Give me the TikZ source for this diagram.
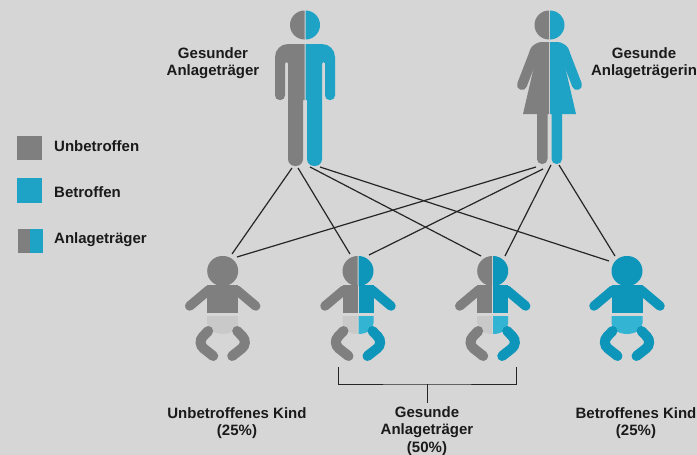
\documentclass[tikz,border=0pt]{standalone}
\usepackage{fontspec}
\usetikzlibrary{positioning}
\setmainfont{Liberation Sans}
\definecolor{bggray}{HTML}{D6D6D6}
\definecolor{figgray}{HTML}{7F7F7F}
\definecolor{figblue}{HTML}{1EA3C6}
\definecolor{babyblue}{HTML}{0E95BA}
\definecolor{nappygray}{HTML}{C9C9C9}
\definecolor{nappyblue}{HTML}{33B4D2}
\definecolor{labelcol}{HTML}{1A1A1A}

\begin{document}
\begin{tikzpicture}
            [
                x=1pt, y=-1pt,
                label/.style={font=\bfseries\fontsize{15}{17.5}\selectfont, text=labelcol, align=center, inner sep=0pt},
                swatch/.style={minimum height=24.5pt, minimum width=25pt, inner sep=0pt, outer sep=0pt},
                halfswatch/.style={minimum height=24.5pt, minimum width=12.5pt, inner sep=0pt, outer sep=0pt},
                link/.style={black!85, line width=1.2pt},
                bracket/.style={black!85, line width=0.9pt},
                pics/manhalf/.style={code={
                    \fill[#1] (0.5,10.5) arc[start angle=-90, end angle=90, radius=14.5];
                    \fill[#1] (0.5,44) [rounded corners=13pt] -- (30,44) [rounded corners=4.5pt] -- (30,100) -- (20,100) [rounded corners=1.5pt] -- (20,62) -- (17,62) [rounded corners=7pt] -- (17,166) -- (2,166) [sharp corners] -- (2,100) -- (0.5,100) -- cycle;
                }},
                pics/womanhalf/.style={code={
                    \fill[#1] (0.5,10.5) arc[start angle=-90, end angle=90, radius=14.5];
                    \draw[#1, line width=10pt, line cap=round] (14,50) -- (27.5,85);
                    \fill[#1] (0.5,42) [rounded corners=8pt] -- (16,42) [sharp corners] -- (20,52) -- (14,60) -- (26.5,114) -- (0.5,114) -- cycle;
                    \fill[#1] (2,114) [rounded corners=5pt] -- (2,164) -- (12.5,164) [sharp corners] -- (12.5,114) -- cycle;
                }},
                pics/babyhalf/.style n args={3}{code={
                    \fill[#1] (#3,-15) -- (0.5,-15) arc[start angle=-90, end angle=90, radius=15] -- (#3,15) -- cycle;
                    \draw[#1, line width=9.5pt, line cap=round] (14,19) -- (33,35);
                    \fill[#1] (#3,14) -- (15.5,14) -- (15.5,42) -- (#3,42) -- cycle;
                    \fill[#2] (#3,45) -- (15.5,45) -- (15.5,52) .. controls (15.5,59) and (8,63) .. (#3,63) -- cycle;
                    \draw[#1, line width=10pt, line cap=round, rounded corners=9pt] (14.5,60) -- (26,72) -- (9.5,85);
                }}
            ]
            % background and frame
            \fill[bggray] (0,0) rectangle (697,455);
            \useasboundingbox (0,0) rectangle (697,455);

            % legend
            \node[swatch, fill=figgray] (boxUnbetroffen) at (29.5,148) {};
            \node[swatch, fill=figblue] (boxBetroffen) at (29.5,190.5) {};
            \node[halfswatch, fill=figgray] (boxTraegerA) at (24,241) {};
            \node[halfswatch, fill=figblue, right=0pt of boxTraegerA] (boxTraegerB) {};
            \node[label, anchor=west] (textUnbetroffen) at (54,146.5) {Unbetroffen};
            \node[label, anchor=west] (textBetroffen) at (54,192.5) {Betroffen};
            \node[label, anchor=west] (textTraeger) at (54,239.5) {Anlageträger};

            % parents
            \pic[xscale=-1] at (305,0) {manhalf=figgray};
            \pic at (305,0) {manhalf=figblue};
            \pic[xscale=-1] at (549.5,0) {womanhalf=figgray};
            \pic at (549.5,0) {womanhalf=figblue};
            \node[label] (labelVater) at (213,63) {
                Gesunder \\
                Anlageträger
            };
            \node[label] (labelMutter) at (644,63) {
                Gesunde \\
                Anlageträgerin
            };

            % babies
            \foreach \kx/\lc/\ln/\rc/\rn/\seam in {
                222.7/figgray/nappygray/figgray/nappygray/-0.5,
                358/figgray/nappygray/babyblue/nappyblue/0.5,
                492.7/figgray/nappygray/babyblue/nappyblue/0.5,
                627/babyblue/nappyblue/babyblue/nappyblue/-0.5%
            } {
                \pic[xscale=-1] at (\kx,271) {babyhalf={\lc}{\ln}{\seam}};
                \pic at (\kx,271) {babyhalf={\rc}{\rn}{\seam}};
            }

            % connector ends
            \coordinate (vaterA) at (292,168);
            \coordinate (vaterB) at (298,168);
            \coordinate (vaterC) at (310,167);
            \coordinate (vaterD) at (320,167);
            \coordinate (mutterA) at (536,167);
            \coordinate (mutterB) at (543,169);
            \coordinate (mutterC) at (551,165);
            \coordinate (mutterD) at (559,165);
            \coordinate (kindAv) at (232,254);
            \coordinate (kindBv) at (350,254);
            \coordinate (kindCv) at (481,256);
            \coordinate (kindDv) at (609,261);
            \coordinate (kindAm) at (237,257);
            \coordinate (kindBm) at (369,255);
            \coordinate (kindCm) at (505,256);
            \coordinate (kindDm) at (615,256);
            \foreach \from/\to in {
                vaterA/kindAv, vaterB/kindBv, vaterC/kindCv, vaterD/kindDv,
                mutterA/kindAm, mutterB/kindBm, mutterC/kindCm, mutterD/kindDm%
            } {
                \draw[link] (\from) -- (\to);
            }

            % bracket
            \coordinate (klammerL) at (338,367);
            \coordinate (klammerR) at (516,367);
            \coordinate (klammerM) at (427,384);
            \coordinate (klammerS) at (427,403);
            \draw[bracket] (klammerL) |- (klammerM) -| (klammerR);
            \draw[bracket] (klammerM) -- (klammerS);

            % bottom labels
            \node[label] (labelUnbetroffen) at (237,423) {
                Unbetroffenes Kind \\
                (25\%)
            };
            \node[label] (labelGesund) at (427,431) {
                Gesunde \\
                Anlageträger \\
                (50\%)
            };
            \node[label] (labelBetroffen) at (636,423) {
                Betroffenes Kind \\
                (25\%)
            };
\end{tikzpicture}
\end{document}
